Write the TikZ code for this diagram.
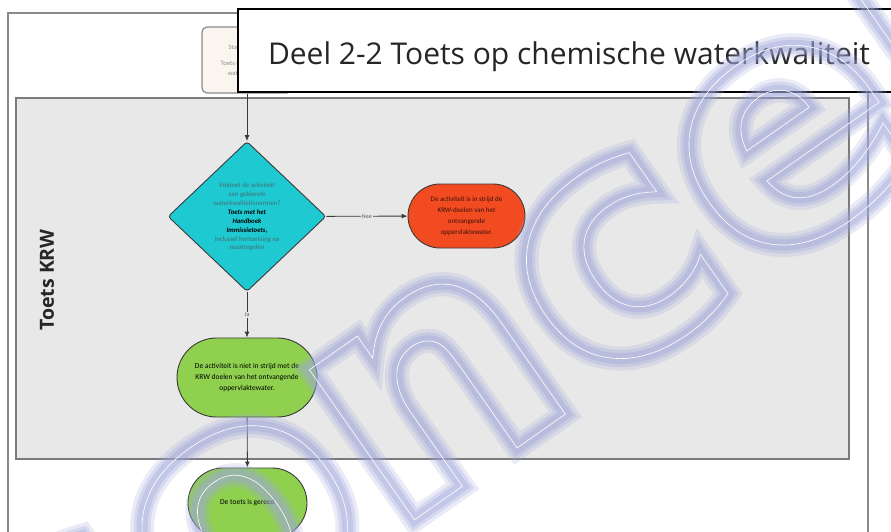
\documentclass[tikz,border=0pt]{standalone}
\usepackage{fontspec}
\setmainfont{Carlito}
\newfontfamily\headfont{Open Sans}
\newfontfamily\markfont{DejaVu Sans}
\usetikzlibrary{arrows.meta,shapes.geometric,shapes.misc}

\definecolor{laneFill}{HTML}{E8E8E8}
\definecolor{laneLine}{HTML}{7A7A7A}
\definecolor{frameLine}{HTML}{8A8A8A}
\definecolor{startFill}{HTML}{FAF6EF}
\definecolor{startText}{HTML}{8C8C8C}
\definecolor{decFill}{HTML}{1FC9D1}
\definecolor{decText}{HTML}{3F6F74}
\definecolor{noFill}{HTML}{F24A21}
\definecolor{noText}{HTML}{3A150C}
\definecolor{yesFill}{HTML}{8FD14F}
\definecolor{flowLine}{HTML}{3A3A3A}

% outlined glyphs: stroke width, stroke rgb, text
\newcommand\strokedtext[3]{%
  \special{pdf:literal direct 1 Tr #1 w #2 RG}#3\special{pdf:literal direct 0 Tr}}

\tikzset{
  border/.style={draw=flowLine, line width=0.9pt},
  flow/.style={draw=flowLine, line width=0.9pt, -{Latex[length=6pt,width=5pt]}},
  small/.style={font=\fontsize{6.8}{8.9}\selectfont, align=center, inner sep=0pt},
  edgelabel/.style={fill=laneFill, inner sep=1.2pt, text=flowLine!85,
    font=\fontsize{6}{6}\selectfont},
  stadium/.style={rounded rectangle, border, inner sep=0pt},
  markfont/.style={font=\markfont\bfseries\fontsize{335}{335}\selectfont,
    rotate=35, anchor=base west, inner sep=0pt},
}

\begin{document}
\begin{tikzpicture}[x=1pt, y=-1pt]
\useasboundingbox (0,0) rectangle (891,532);
\begin{scope}
\clip (0,0) rectangle (891,532);

% outer frame and swimlane
\draw[frameLine, line width=1.2pt] (8,13) rectangle (868,560);
\draw[laneLine, fill=laneFill, line width=1.3pt] (16,98) rectangle (849,459);
\node[rotate=90, font=\headfont\bfseries\fontsize{19.5}{20}\selectfont,
  text=black!85] (lane) at (47,280) {Toets KRW};

% start box, partly hidden by the heading
\node[draw=frameLine, fill=startFill, line width=1.2pt, rounded corners=5pt,
  minimum width=90pt, minimum height=66pt, inner sep=0pt,
  font=\fontsize{6.6}{10}\selectfont, align=center, text=startText]
  (start) at (247,60) {Start Deel 2-2\\[6pt]Toets op chemische\\waterkwaliteit};

% heading
\draw[black, fill=white, line width=1.4pt] (238,9) rectangle (910,92);
\node[anchor=base, font=\headfont\fontsize{30}{30}\selectfont, text=black!85,
  inner sep=0pt] (headtext) at (569,64.5)
  {Deel 2-2 Toets op chemische waterkwaliteit};

% decision
\node[diamond, border, fill=decFill, rounded corners=3pt, minimum width=158pt,
  minimum height=150pt, inner sep=0pt] (dec) at (247,216.5) {};
\node[small, text=decText] (dectext) at (247,217)
  {Voldoet de activiteit\\aan geldende\\waterkwaliteitsnormen?\\
   {\color{black}\bfseries\itshape Toets met het}\\
   {\color{black}\bfseries\itshape Handboek}\\
   {\color{black}\bfseries\itshape Immissietoets,}\\
   inclusief hertoetsing na\\maatregelen};

% outcomes
\node[stadium, fill=noFill, minimum width=117pt, minimum height=64pt,
  font=\fontsize{7}{11}\selectfont, align=center, text=noText]
  (no) at (466.5,216) {De activiteit is in strijd de\\KRW-doelen van het\\
  ontvangende\\oppervlaktewater.};
\node[stadium, fill=yesFill, minimum width=140pt, minimum height=79pt,
  font=\fontsize{7.5}{11}\selectfont, align=center, text=black]
  (yes) at (247,377.5) {De activiteit is niet in strijd met de\\
  KRW doelen van het ontvangende\\oppervlaktewater.};
\node[stadium, fill=yesFill, minimum width=119pt, minimum height=70pt,
  font=\fontsize{7.5}{9}\selectfont, text=black]
  (done) at (247.5,503) {De toets is gereed};

% connectors
\draw[flow] (start) -- (dec);
\draw[flow] (dec) -- node[edgelabel] (neelabel) {Nee} (no);
\draw[flow] (dec) -- node[edgelabel] (jalabel) {Ja} (yes);
\draw[flow] (yes) -- (done);

% watermark: soft lavender outline with a fine white core
\foreach \w/\op [count=\i] in {24/0.22, 17/0.28, 11/0.34} {
  \begin{scope}[opacity=\op]
    \node[markfont] (mark\i) at (40,782)
      {\strokedtext{\w}{0.62 0.65 0.85}{concept}};
  \end{scope}
}
\node[markfont] (markline) at (40,782)
  {\strokedtext{0.6}{1 1 1}{concept}};
\end{scope}
\end{tikzpicture}
\end{document}
